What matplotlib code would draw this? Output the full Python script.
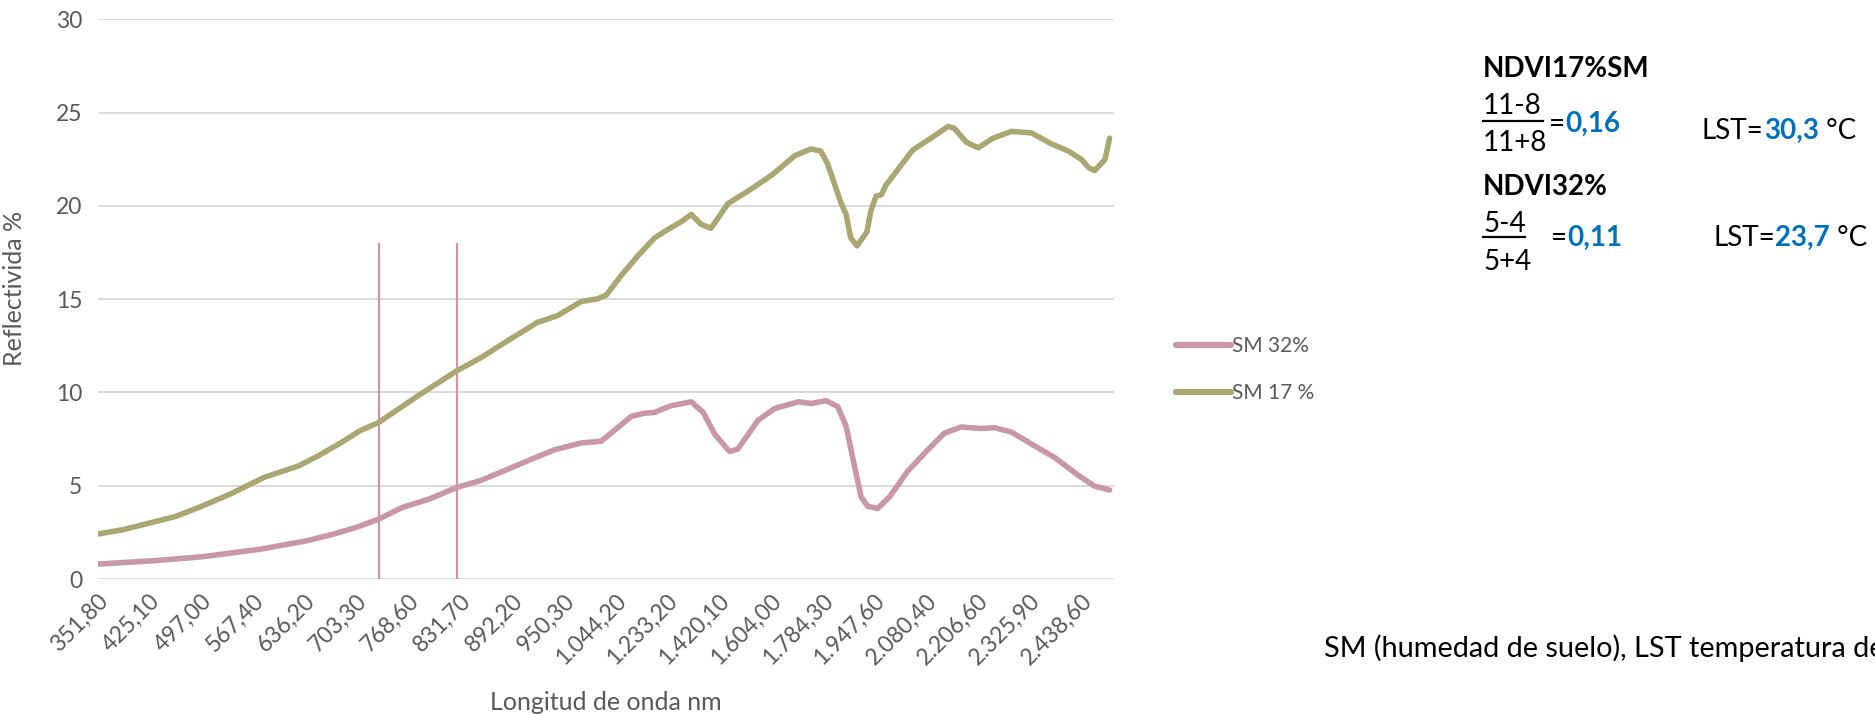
import matplotlib
matplotlib.use("Agg")
import matplotlib.pyplot as plt
from matplotlib.lines import Line2D

plt.rcParams['font.family'] = ['Lato', 'DejaVu Sans']

# wavelength labels shown on the category axis (one every label step)
tick_labels = ["351,80", "425,10", "497,00", "567,40", "636,20", "703,30",
               "768,60", "831,70", "892,20", "950,30", "1.044,20", "1.233,20",
               "1.420,10", "1.604,00", "1.784,30", "1.947,60", "2.080,40",
               "2.206,60", "2.325,90", "2.438,60"]

# SM 17 %: sample position (in label steps) and reflectance
sm17_pos = [0.0, 0.5, 0.93, 1.5, 1.96, 2.56, 3.22, 3.6, 3.89, 4.26, 4.7, 5.07,
            5.43, 6.19, 6.94, 7.41, 7.92, 8.5, 8.89, 9.34, 9.66, 9.83, 10.12,
            10.44, 10.76, 11.02, 11.28, 11.47, 11.66, 11.85, 12.18, 12.57,
            13.02, 13.47, 13.78, 13.97, 14.1, 14.23, 14.36, 14.46, 14.55,
            14.67, 14.75, 14.86, 14.94, 15.04, 15.14, 15.23, 15.46, 15.75,
            16.1, 16.43, 16.55, 16.78, 17.01, 17.3, 17.65, 18.04, 18.43,
            18.75, 19.01, 19.14, 19.26, 19.46, 19.55]
sm17_val = [2.41, 2.65, 2.95, 3.35, 3.84, 4.55, 5.45, 5.8, 6.07, 6.6, 7.3, 7.95,
            8.39, 9.82, 11.16, 11.87, 12.77, 13.76, 14.12, 14.87, 15.02, 15.23,
            16.28, 17.33, 18.28, 18.74, 19.16, 19.54, 19.01, 18.8, 20.13, 20.8,
            21.64, 22.69, 23.05, 22.94, 22.27, 21.22, 20.17, 19.54, 18.28,
            17.86, 18.17, 18.59, 19.75, 20.53, 20.59, 21.11, 21.95, 23.0,
            23.63, 24.26, 24.16, 23.42, 23.11, 23.63, 23.99, 23.91, 23.32,
            22.94, 22.48, 22.06, 21.89, 22.48, 23.63]

# SM 32 %
sm32_pos = [0.0, 1.07, 2.04, 3.15, 4.04, 4.56, 5.0, 5.43, 5.89, 6.41, 6.94,
            7.41, 7.92, 8.37, 8.83, 9.34, 9.73, 9.99, 10.31, 10.57, 10.76,
            11.08, 11.47, 11.7, 11.92, 12.21, 12.37, 12.76, 13.08, 13.54,
            13.79, 14.07, 14.3, 14.46, 14.62, 14.75, 14.88, 15.07, 15.3,
            15.65, 16.04, 16.36, 16.68, 17.07, 17.33, 17.65, 18.1, 18.49,
            18.94, 19.26, 19.55]
sm32_val = [0.8, 0.98, 1.2, 1.6, 2.05, 2.41, 2.77, 3.21, 3.84, 4.29, 4.91,
            5.29, 5.88, 6.41, 6.93, 7.29, 7.39, 7.98, 8.72, 8.89, 8.93,
            9.29, 9.5, 8.93, 7.77, 6.83, 6.97, 8.51, 9.14, 9.5,
            9.41, 9.56, 9.24, 8.19, 6.09, 4.41, 3.89, 3.78, 4.41,
            5.78, 6.93, 7.82, 8.15, 8.07, 8.11, 7.88, 7.14, 6.51,
            5.57, 4.98, 4.77]

# band markers used for the NDVI (red / NIR)
band_marks = [5.43, 6.94]
band_top = 18

PINK = "#C997A8"
OLIVE = "#ABA773"
GREY = "#595959"
BLUE = "#0070C0"

fig = plt.figure(figsize=(18.75, 7.14), dpi=100)
ax = fig.add_axes([0.052, 0.189, 0.542, 0.784])

ax.plot(sm32_pos, sm32_val, color=PINK, lw=4.0, solid_joinstyle='round',
        solid_capstyle='round', label="SM 32%", zorder=3)
ax.plot(sm17_pos, sm17_val, color=OLIVE, lw=4.0, solid_joinstyle='round',
        solid_capstyle='round', label="SM 17 %", zorder=3)
ax.vlines(band_marks, 0, band_top, color=PINK, lw=1.6, zorder=2)

ax.set_xlim(0, 19.63)
ax.set_ylim(0, 30)
ax.set_yticks(range(0, 31, 5))
ax.set_xticks(range(len(tick_labels)))
ax.set_xticklabels(tick_labels, rotation=45, ha='right', va='top',
                   rotation_mode='anchor')
ax.tick_params(axis='both', length=0, labelsize=16.5, colors=GREY)
ax.tick_params(axis='y', pad=11)
ax.tick_params(axis='x', pad=8)
for s in ax.spines.values():
    s.set_visible(False)
ax.grid(axis='y', color="#D9D9D9", lw=1.3)
ax.set_axisbelow(True)
ax.set_xlabel("Longitud de onda nm", fontsize=18, color=GREY, labelpad=16)
ax.set_ylabel("Reflectivida %", fontsize=18, color=GREY)
ax.yaxis.set_label_coords(-0.07, 0.52)

leg = fig.legend(loc='upper left', bbox_to_anchor=(1168 / 1875, 1 - 328 / 714),
                 frameon=False, fontsize=15, handlelength=2.6, handletextpad=0.05,
                 labelspacing=1.3, borderaxespad=0)
for t in leg.get_texts():
    t.set_color(GREY)
for h in leg.get_lines():
    h.set_linewidth(4.5)


def px(x, y):
    return x / 1875, 1 - y / 714


renderer = fig.canvas.get_renderer()


def chain(x, y, pieces, size):
    # write several differently styled pieces one after another on a line
    for txt, weight, color in pieces:
        t = fig.text(*px(x, y), txt, fontsize=size, fontweight=weight,
                     color=color, va='center')
        x += t.get_window_extent(renderer).width


fs = 20

fig.text(*px(1483, 69), "NDVI17%SM", fontsize=fs, fontweight='bold', va='center')
fig.text(*px(1483, 106), "11-8", fontsize=fs, va='center')
fig.add_artist(Line2D([1483 / 1875, 1543 / 1875], [1 - 121 / 714] * 2,
                      color='black', lw=1.6, transform=fig.transFigure))
fig.text(*px(1483, 143), "11+8", fontsize=fs, va='center')
chain(1549, 124, [("=", 'normal', 'black'), ("0,16", 'bold', BLUE)], fs)
chain(1702, 131, [("LST=", 'normal', 'black'), ("30,3", 'bold', BLUE),
                  (" °C", 'normal', 'black')], fs)

fig.text(*px(1483, 187), "NDVI32%", fontsize=fs, fontweight='bold', va='center')
fig.text(*px(1483, 224), "5-4", fontsize=fs, va='center')
fig.add_artist(Line2D([1483 / 1875, 1525 / 1875], [1 - 237 / 714] * 2,
                      color='black', lw=1.6, transform=fig.transFigure))
fig.text(*px(1483, 262), "5+4", fontsize=fs, va='center')
chain(1551, 238, [("=", 'normal', 'black'), ("0,11", 'bold', BLUE)], fs)
chain(1713, 238, [("LST=", 'normal', 'black'), ("23,7", 'bold', BLUE),
                  (" °C", 'normal', 'black')], fs)

# footnote runs past the right edge of the figure
fig.text(*px(1324, 648), "SM (humedad de suelo), LST temperatura de superficie",
         fontsize=20.8, va='center')

fig.savefig("out.png", dpi=100)
